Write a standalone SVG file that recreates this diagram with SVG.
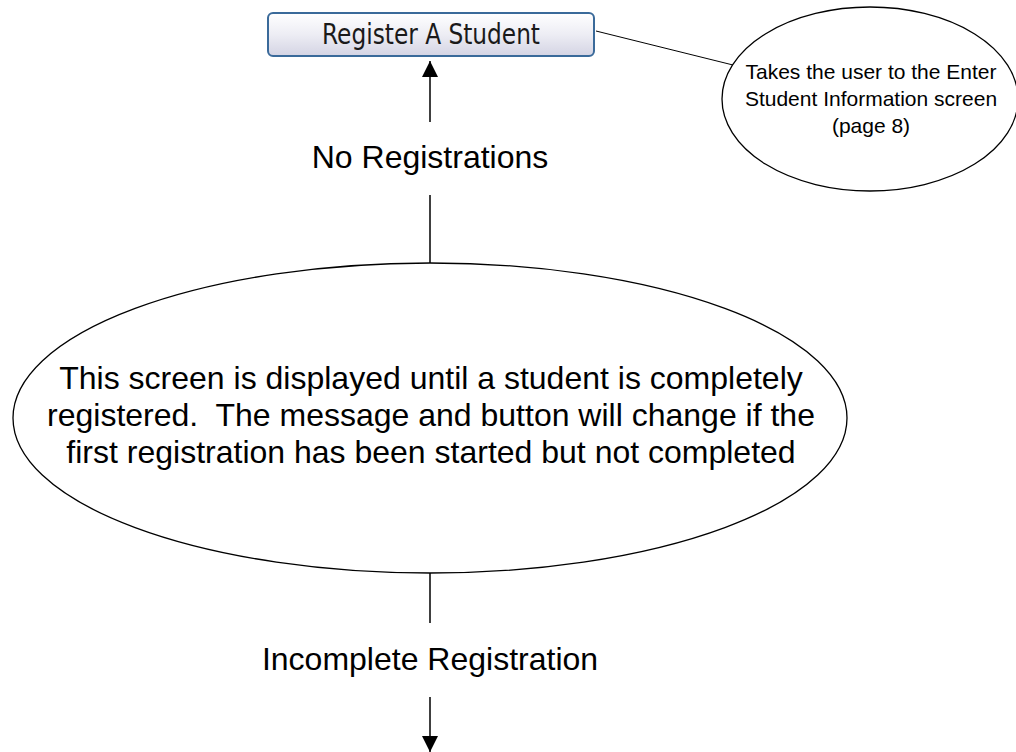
<svg xmlns="http://www.w3.org/2000/svg" width="1016" height="752" viewBox="0 0 1016 752">
<defs>
<linearGradient id="btnGrad" x1="0" y1="0" x2="0" y2="1">
<stop offset="0" stop-color="#ffffff"/>
<stop offset="0.5" stop-color="#ededf4"/>
<stop offset="1" stop-color="#d4d4e4"/>
</linearGradient>
<marker id="arrow" viewBox="0 0 16 16" refX="16" refY="8" markerWidth="16" markerHeight="16" markerUnits="userSpaceOnUse" orient="auto">
<path d="M0,0 L16,8 L0,16 Z" fill="#000"/>
</marker>
</defs>
<style>
.shape{fill:#fff;stroke:#000;stroke-width:1.3}
.conn{stroke:#000;stroke-width:1.5;fill:none}
.thin{stroke:#000;stroke-width:1;fill:none}
.lbl{font-family:"Liberation Sans",Arial,sans-serif;font-size:32px;fill:#000;text-anchor:middle}
.note{font-family:"Liberation Sans",Arial,sans-serif;font-size:21px;fill:#000;text-anchor:middle}
.btn{font-family:"DejaVu Sans",Tahoma,sans-serif;font-size:28px;fill:#1a1a1a;text-anchor:middle}
</style>
<rect width="1016" height="752" fill="#fff"/>
<g id="connectors">
<line class="conn" x1="430" y1="122" x2="430" y2="61" marker-end="url(#arrow)"/>
<line class="conn" x1="430" y1="195" x2="430" y2="263"/>
<line class="conn" x1="430" y1="573" x2="430" y2="623"/>
<line class="conn" x1="430" y1="697" x2="430" y2="752" marker-end="url(#arrow)"/>
<line class="thin" x1="596" y1="31" x2="733" y2="65"/>
</g>
<g id="button">
<rect x="268" y="13" width="326" height="43" rx="5" fill="url(#btnGrad)" stroke="#3a6a9a" stroke-width="2"/>
<text class="btn" x="431" y="44" textLength="218" lengthAdjust="spacingAndGlyphs">Register A Student</text>
</g>
<g id="note">
<ellipse class="shape" cx="870" cy="99" rx="148" ry="92" stroke-width="1"/>
<text class="note" x="871" y="79">Takes the user to the Enter</text>
<text class="note" x="871" y="106">Student Information screen</text>
<text class="note" x="871" y="133">(page 8)</text>
</g>
<g id="label-no-registrations">
<text class="lbl" x="430" y="168">No Registrations</text>
</g>
<g id="main-ellipse">
<ellipse class="shape" cx="430" cy="418" rx="417" ry="155"/>
<text class="lbl" x="431" y="389">This screen is displayed until a student is completely</text>
<text class="lbl" x="431" y="426" xml:space="preserve">registered.  The message and button will change if the</text>
<text class="lbl" x="431" y="463">first registration has been started but not completed</text>
</g>
<g id="label-incomplete">
<text class="lbl" x="430" y="670">Incomplete Registration</text>
</g>
</svg>
